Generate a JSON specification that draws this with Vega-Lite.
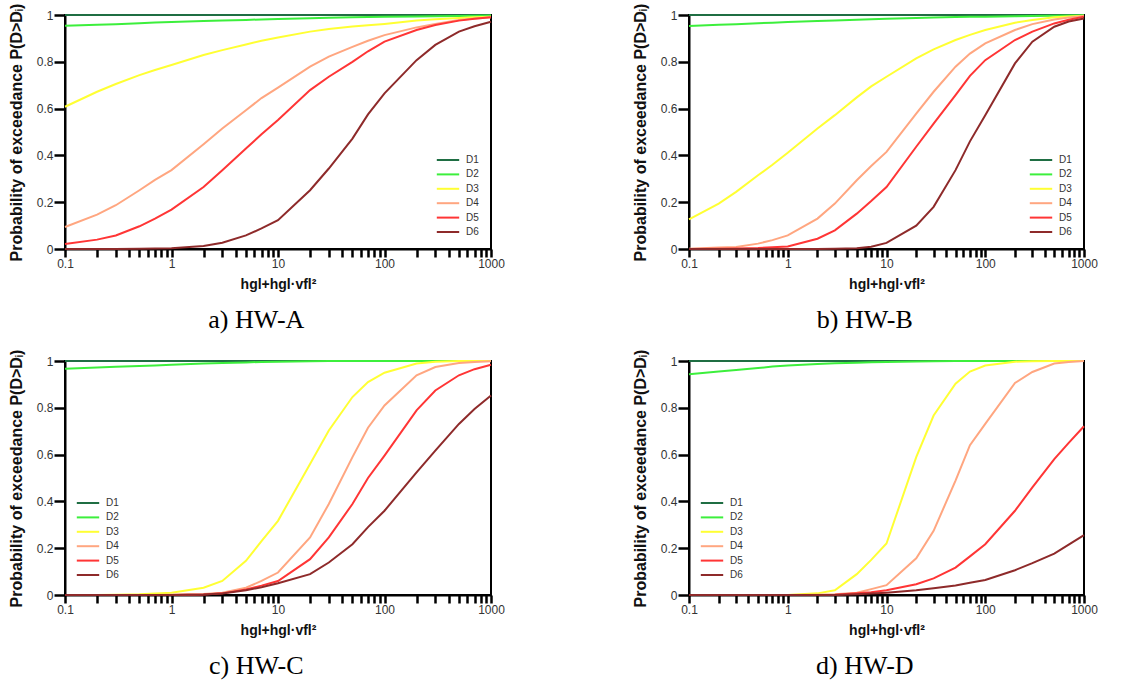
{
  "$schema": "https://vega.github.io/schema/vega-lite/v6.json",
  "padding": {"left": 7, "top": 2, "right": 5, "bottom": 5},
  "background": "white",
  "columns": 2,
  "bounds": "flush",
  "spacing": {"row": 112, "column": 198},
  "datasets": {
    "a": [
      {"x":0.1,"D1":1,"D2":0.954,"D3":0.608,"D4":0.094,"D5":0.021,"D6":0.0},
      {"x":0.2,"D1":1,"D2":0.958,"D3":0.672,"D4":0.147,"D5":0.040,"D6":0.0},
      {"x":0.3,"D1":1,"D2":0.961,"D3":0.705,"D4":0.187,"D5":0.058,"D6":0.0},
      {"x":0.5,"D1":1,"D2":0.965,"D3":0.743,"D4":0.251,"D5":0.097,"D6":0.001},
      {"x":0.7,"D1":1,"D2":0.968,"D3":0.765,"D4":0.295,"D5":0.130,"D6":0.002},
      {"x":1,"D1":1,"D2":0.970,"D3":0.786,"D4":0.337,"D5":0.168,"D6":0.003},
      {"x":2,"D1":1,"D2":0.974,"D3":0.829,"D4":0.448,"D5":0.265,"D6":0.013},
      {"x":3,"D1":1,"D2":0.976,"D3":0.850,"D4":0.515,"D5":0.337,"D6":0.027},
      {"x":5,"D1":1,"D2":0.979,"D3":0.874,"D4":0.593,"D5":0.429,"D6":0.058},
      {"x":7,"D1":1,"D2":0.981,"D3":0.890,"D4":0.645,"D5":0.490,"D6":0.088},
      {"x":10,"D1":1,"D2":0.983,"D3":0.904,"D4":0.690,"D5":0.551,"D6":0.123},
      {"x":20,"D1":1,"D2":0.986,"D3":0.929,"D4":0.779,"D5":0.679,"D6":0.251},
      {"x":30,"D1":1,"D2":0.988,"D3":0.940,"D4":0.822,"D5":0.736,"D6":0.344},
      {"x":50,"D1":1,"D2":0.990,"D3":0.951,"D4":0.864,"D5":0.800,"D6":0.472},
      {"x":70,"D1":1,"D2":0.991,"D3":0.956,"D4":0.890,"D5":0.845,"D6":0.575},
      {"x":100,"D1":1,"D2":0.992,"D3":0.962,"D4":0.914,"D5":0.886,"D6":0.665},
      {"x":200,"D1":1,"D2":0.994,"D3":0.976,"D4":0.947,"D5":0.936,"D6":0.807},
      {"x":300,"D1":1,"D2":0.995,"D3":0.982,"D4":0.962,"D5":0.957,"D6":0.872},
      {"x":500,"D1":1,"D2":0.996,"D3":0.987,"D4":0.979,"D5":0.976,"D6":0.929},
      {"x":700,"D1":1,"D2":0.997,"D3":0.990,"D4":0.985,"D5":0.984,"D6":0.952},
      {"x":1000,"D1":1,"D2":0.998,"D3":0.993,"D4":0.990,"D5":0.990,"D6":0.971}
    ],
    "b": [
      {"x":0.1,"D1":1,"D2":0.953,"D3":0.127,"D4":0.001,"D5":0.0,"D6":0.0},
      {"x":0.2,"D1":1,"D2":0.958,"D3":0.194,"D4":0.006,"D5":0.001,"D6":0.0},
      {"x":0.3,"D1":1,"D2":0.961,"D3":0.244,"D4":0.009,"D5":0.002,"D6":0.0},
      {"x":0.5,"D1":1,"D2":0.965,"D3":0.315,"D4":0.023,"D5":0.004,"D6":0.0},
      {"x":0.7,"D1":1,"D2":0.967,"D3":0.360,"D4":0.038,"D5":0.007,"D6":0.0},
      {"x":1,"D1":1,"D2":0.970,"D3":0.411,"D4":0.058,"D5":0.011,"D6":0.0},
      {"x":2,"D1":1,"D2":0.974,"D3":0.515,"D4":0.130,"D5":0.044,"D6":0.0},
      {"x":3,"D1":1,"D2":0.977,"D3":0.572,"D4":0.194,"D5":0.080,"D6":0.001},
      {"x":5,"D1":1,"D2":0.980,"D3":0.648,"D4":0.294,"D5":0.151,"D6":0.003},
      {"x":7,"D1":1,"D2":0.982,"D3":0.695,"D4":0.355,"D5":0.205,"D6":0.010},
      {"x":10,"D1":1,"D2":0.984,"D3":0.736,"D4":0.415,"D5":0.265,"D6":0.026},
      {"x":20,"D1":1,"D2":0.987,"D3":0.815,"D4":0.579,"D5":0.437,"D6":0.100},
      {"x":30,"D1":1,"D2":0.989,"D3":0.853,"D4":0.672,"D5":0.536,"D6":0.180},
      {"x":50,"D1":1,"D2":0.991,"D3":0.893,"D4":0.779,"D5":0.658,"D6":0.337},
      {"x":70,"D1":1,"D2":0.992,"D3":0.915,"D4":0.835,"D5":0.740,"D6":0.460},
      {"x":100,"D1":1,"D2":0.993,"D3":0.936,"D4":0.879,"D5":0.807,"D6":0.572},
      {"x":200,"D1":1,"D2":0.995,"D3":0.967,"D4":0.936,"D5":0.893,"D6":0.793},
      {"x":300,"D1":1,"D2":0.996,"D3":0.979,"D4":0.961,"D5":0.929,"D6":0.886},
      {"x":500,"D1":1,"D2":0.997,"D3":0.990,"D4":0.981,"D5":0.964,"D6":0.950},
      {"x":700,"D1":1,"D2":0.998,"D3":0.994,"D4":0.989,"D5":0.980,"D6":0.972},
      {"x":1000,"D1":1,"D2":0.999,"D3":0.997,"D4":0.996,"D5":0.993,"D6":0.985}
    ],
    "c": [
      {"x":0.1,"D1":1,"D2":0.967,"D3":0.0,"D4":0.0,"D5":0.0,"D6":0.0},
      {"x":0.2,"D1":1,"D2":0.972,"D3":0.0,"D4":0.0,"D5":0.0,"D6":0.0},
      {"x":0.3,"D1":1,"D2":0.975,"D3":0.001,"D4":0.0,"D5":0.0,"D6":0.0},
      {"x":0.5,"D1":1,"D2":0.979,"D3":0.003,"D4":0.0,"D5":0.0,"D6":0.0},
      {"x":0.7,"D1":1,"D2":0.981,"D3":0.006,"D4":0.0,"D5":0.0,"D6":0.0},
      {"x":1,"D1":1,"D2":0.984,"D3":0.010,"D4":0.001,"D5":0.0,"D6":0.0},
      {"x":2,"D1":1,"D2":0.989,"D3":0.031,"D4":0.004,"D5":0.002,"D6":0.002},
      {"x":3,"D1":1,"D2":0.991,"D3":0.060,"D4":0.010,"D5":0.007,"D6":0.006},
      {"x":5,"D1":1,"D2":0.994,"D3":0.146,"D4":0.031,"D5":0.024,"D6":0.020},
      {"x":7,"D1":1,"D2":0.996,"D3":0.230,"D4":0.060,"D5":0.040,"D6":0.033},
      {"x":10,"D1":1,"D2":0.997,"D3":0.317,"D4":0.096,"D5":0.060,"D6":0.050},
      {"x":20,"D1":1,"D2":0.999,"D3":0.560,"D4":0.246,"D5":0.153,"D6":0.089},
      {"x":30,"D1":1,"D2":1,"D3":0.703,"D4":0.389,"D5":0.246,"D6":0.139},
      {"x":50,"D1":1,"D2":1,"D3":0.846,"D4":0.589,"D5":0.389,"D6":0.217},
      {"x":70,"D1":1,"D2":1,"D3":0.910,"D4":0.715,"D5":0.500,"D6":0.290},
      {"x":100,"D1":1,"D2":1,"D3":0.950,"D4":0.810,"D5":0.596,"D6":0.360},
      {"x":200,"D1":1,"D2":1,"D3":0.989,"D4":0.939,"D5":0.789,"D6":0.524},
      {"x":300,"D1":1,"D2":1,"D3":0.997,"D4":0.974,"D5":0.874,"D6":0.617},
      {"x":500,"D1":1,"D2":1,"D3":1,"D4":0.991,"D5":0.939,"D6":0.731},
      {"x":700,"D1":1,"D2":1,"D3":1,"D4":0.996,"D5":0.965,"D6":0.795},
      {"x":1000,"D1":1,"D2":1,"D3":1,"D4":0.999,"D5":0.984,"D6":0.853}
    ],
    "d": [
      {"x":0.1,"D1":1,"D2":0.943,"D3":0.0,"D4":0.0,"D5":0.0,"D6":0.0},
      {"x":0.2,"D1":1,"D2":0.955,"D3":0.0,"D4":0.0,"D5":0.0,"D6":0.0},
      {"x":0.3,"D1":1,"D2":0.962,"D3":0.0,"D4":0.0,"D5":0.0,"D6":0.0},
      {"x":0.5,"D1":1,"D2":0.970,"D3":0.0,"D4":0.0,"D5":0.0,"D6":0.0},
      {"x":0.7,"D1":1,"D2":0.976,"D3":0.0,"D4":0.0,"D5":0.0,"D6":0.0},
      {"x":1,"D1":1,"D2":0.981,"D3":0.0,"D4":0.0,"D5":0.0,"D6":0.0},
      {"x":2,"D1":1,"D2":0.987,"D3":0.007,"D4":0.001,"D5":0.0,"D6":0.0},
      {"x":3,"D1":1,"D2":0.990,"D3":0.020,"D4":0.003,"D5":0.001,"D6":0.0},
      {"x":5,"D1":1,"D2":0.993,"D3":0.089,"D4":0.010,"D5":0.007,"D6":0.003},
      {"x":7,"D1":1,"D2":0.995,"D3":0.150,"D4":0.025,"D5":0.012,"D6":0.006},
      {"x":10,"D1":1,"D2":0.996,"D3":0.220,"D4":0.042,"D5":0.020,"D6":0.010},
      {"x":20,"D1":1,"D2":0.998,"D3":0.589,"D4":0.157,"D5":0.046,"D6":0.020},
      {"x":30,"D1":1,"D2":0.999,"D3":0.767,"D4":0.274,"D5":0.071,"D6":0.029},
      {"x":50,"D1":1,"D2":1,"D3":0.903,"D4":0.489,"D5":0.117,"D6":0.041},
      {"x":70,"D1":1,"D2":1,"D3":0.955,"D4":0.640,"D5":0.165,"D6":0.052},
      {"x":100,"D1":1,"D2":1,"D3":0.981,"D4":0.731,"D5":0.217,"D6":0.064},
      {"x":200,"D1":1,"D2":1,"D3":0.997,"D4":0.906,"D5":0.360,"D6":0.106},
      {"x":300,"D1":1,"D2":1,"D3":0.999,"D4":0.953,"D5":0.460,"D6":0.136},
      {"x":500,"D1":1,"D2":1,"D3":1,"D4":0.989,"D5":0.581,"D6":0.177},
      {"x":700,"D1":1,"D2":1,"D3":1,"D4":0.996,"D5":0.650,"D6":0.215},
      {"x":1000,"D1":1,"D2":1,"D3":1,"D4":1,"D5":0.721,"D6":0.256}
    ]
  },
  "concat": [
    {
      "width": 426, "height": 234,
      "title": {"text": "a) HW-A"},
      "data": {"name": "a"},
      "transform": [{"fold": ["D1","D2","D3","D4","D5","D6"], "as": ["D", "p"]}],
      "mark": {"type": "line", "strokeWidth": 2, "clip": false},
      "encoding": {
        "x": {"field": "x", "type": "quantitative", "scale": {"type": "log", "domain": [0.1, 1000], "nice": false},
          "axis": {"title": "hgl+hgl·vfl²", "values": [0.1,0.2,0.3,0.4,0.5,0.6,0.7,0.8,0.9,1,2,3,4,5,6,7,8,9,10,20,30,40,50,60,70,80,90,100,200,300,400,500,600,700,800,900,1000], "format": "~g", "labelExpr": "(datum.value == 0.1 || datum.value == 1 || datum.value == 10 || datum.value == 100 || datum.value == 1000) ? datum.label : ''", "ticks": true, "tickColor": "black", "tickOpacity": 1, "tickWidth": 2.5, "tickSize": 8, "labelPadding": 1}},
        "y": {"field": "p", "type": "quantitative", "scale": {"domain": [0, 1], "nice": false, "zero": false},
          "axis": {"title": "Probability of exceedance P(D>Dᵢ)", "values": [0, 0.2, 0.4, 0.6, 0.8, 1], "format": "~g", "ticks": true, "tickColor": "black", "tickOpacity": 1, "tickWidth": 2.5, "tickSize": 11, "labelPadding": 1}},
        "color": {"field": "D", "type": "nominal", "legend": {"orient": "bottom-right", "offset": 12}}
      }
    },
    {
      "width": 395, "height": 234,
      "title": {"text": "b) HW-B"},
      "data": {"name": "b"},
      "transform": [{"fold": ["D1","D2","D3","D4","D5","D6"], "as": ["D", "p"]}],
      "mark": {"type": "line", "strokeWidth": 2, "clip": false},
      "encoding": {
        "x": {"field": "x", "type": "quantitative", "scale": {"type": "log", "domain": [0.1, 1000], "nice": false},
          "axis": {"title": "hgl+hgl·vfl²", "values": [0.1,0.2,0.3,0.4,0.5,0.6,0.7,0.8,0.9,1,2,3,4,5,6,7,8,9,10,20,30,40,50,60,70,80,90,100,200,300,400,500,600,700,800,900,1000], "format": "~g", "labelExpr": "(datum.value == 0.1 || datum.value == 1 || datum.value == 10 || datum.value == 100 || datum.value == 1000) ? datum.label : ''", "ticks": true, "tickColor": "black", "tickOpacity": 1, "tickWidth": 2.5, "tickSize": 8, "labelPadding": 1}},
        "y": {"field": "p", "type": "quantitative", "scale": {"domain": [0, 1], "nice": false, "zero": false},
          "axis": {"title": "Probability of exceedance P(D>Dᵢ)", "values": [0, 0.2, 0.4, 0.6, 0.8, 1], "format": "~g", "ticks": true, "tickColor": "black", "tickOpacity": 1, "tickWidth": 2.5, "tickSize": 11, "labelPadding": 1}},
        "color": {"field": "D", "type": "nominal", "legend": {"orient": "bottom-right", "offset": 12}}
      }
    },
    {
      "width": 426, "height": 234,
      "title": {"text": "c) HW-C"},
      "data": {"name": "c"},
      "transform": [{"fold": ["D1","D2","D3","D4","D5","D6"], "as": ["D", "p"]}],
      "mark": {"type": "line", "strokeWidth": 2, "clip": false},
      "encoding": {
        "x": {"field": "x", "type": "quantitative", "scale": {"type": "log", "domain": [0.1, 1000], "nice": false},
          "axis": {"title": "hgl+hgl·vfl²", "values": [0.1,0.2,0.3,0.4,0.5,0.6,0.7,0.8,0.9,1,2,3,4,5,6,7,8,9,10,20,30,40,50,60,70,80,90,100,200,300,400,500,600,700,800,900,1000], "format": "~g", "labelExpr": "(datum.value == 0.1 || datum.value == 1 || datum.value == 10 || datum.value == 100 || datum.value == 1000) ? datum.label : ''", "ticks": true, "tickColor": "black", "tickOpacity": 1, "tickWidth": 2.5, "tickSize": 8, "labelPadding": 1}},
        "y": {"field": "p", "type": "quantitative", "scale": {"domain": [0, 1], "nice": false, "zero": false},
          "axis": {"title": "Probability of exceedance P(D>Dᵢ)", "values": [0, 0.2, 0.4, 0.6, 0.8, 1], "format": "~g", "ticks": true, "tickColor": "black", "tickOpacity": 1, "tickWidth": 2.5, "tickSize": 11, "labelPadding": 1}},
        "color": {"field": "D", "type": "nominal", "legend": {"orient": "bottom-left", "offset": 15}}
      }
    },
    {
      "width": 395, "height": 234,
      "title": {"text": "d) HW-D"},
      "data": {"name": "d"},
      "transform": [{"fold": ["D1","D2","D3","D4","D5","D6"], "as": ["D", "p"]}],
      "mark": {"type": "line", "strokeWidth": 2, "clip": false},
      "encoding": {
        "x": {"field": "x", "type": "quantitative", "scale": {"type": "log", "domain": [0.1, 1000], "nice": false},
          "axis": {"title": "hgl+hgl·vfl²", "values": [0.1,0.2,0.3,0.4,0.5,0.6,0.7,0.8,0.9,1,2,3,4,5,6,7,8,9,10,20,30,40,50,60,70,80,90,100,200,300,400,500,600,700,800,900,1000], "format": "~g", "labelExpr": "(datum.value == 0.1 || datum.value == 1 || datum.value == 10 || datum.value == 100 || datum.value == 1000) ? datum.label : ''", "ticks": true, "tickColor": "black", "tickOpacity": 1, "tickWidth": 2.5, "tickSize": 8, "labelPadding": 1}},
        "y": {"field": "p", "type": "quantitative", "scale": {"domain": [0, 1], "nice": false, "zero": false},
          "axis": {"title": "Probability of exceedance P(D>Dᵢ)", "values": [0, 0.2, 0.4, 0.6, 0.8, 1], "format": "~g", "ticks": true, "tickColor": "black", "tickOpacity": 1, "tickWidth": 2.5, "tickSize": 11, "labelPadding": 1}},
        "color": {"field": "D", "type": "nominal", "legend": {"orient": "bottom-left", "offset": 15}}
      }
    }
  ],
  "resolve": {"scale": {"color": "independent"}, "legend": {"color": "independent"}},
  "config": {
    "font": "Liberation Sans",
    "view": {"stroke": "black", "strokeWidth": 2},
    "range": {"category": ["#1f6e43", "#3cef3c", "#ffff33", "#ffa680", "#ff3535", "#8e2a2a"]},
    "axisX": {
      "labelOverlap": false,
      "labelFlush": false,
      "titlePadding": 8,
      "titleFontSize": 14
    },
    "axisY": {
      "titleFontSize": 16,
      "titlePadding": 12
    },
    "axis": {
      "grid": false,
      "domainColor": "#000000",
      "domainWidth": 2,
      "labelColor": "#333333",
      "labelFontSize": 12,
      "labelFont": "Liberation Sans",
      "titleFont": "Liberation Sans",
      "titleFontWeight": "bold",
      "titleColor": "#111111"
    },
    "legend": {
      "title": null,
      "symbolType": "M-1.6,0H1.6",
      "symbolSize": 196,
      "symbolStrokeWidth": 2,
      "labelFontSize": 10,
      "labelColor": "#333333",
      "labelFont": "Liberation Sans",
      "labelOffset": 10,
      "rowPadding": 1.4,
      "padding": 0
    },
    "title": {
      "orient": "bottom",
      "anchor": "middle",
      "frame": "bounds",
      "font": "Liberation Serif",
      "fontSize": 26,
      "fontWeight": "normal",
      "color": "black",
      "offset": 16
    }
  }
}
